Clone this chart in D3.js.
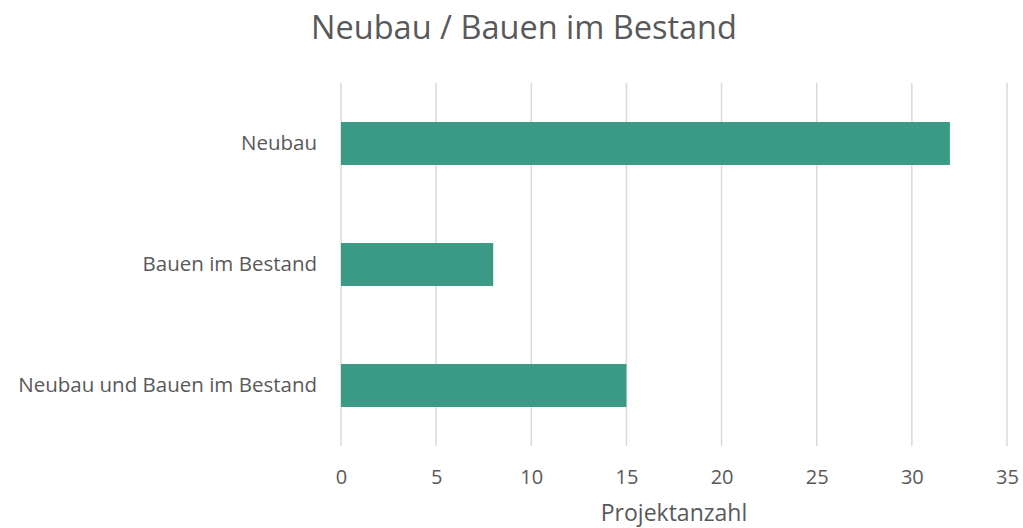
<!DOCTYPE html>
<html>
<head>
<meta charset="utf-8">
<script src="https://cdn.jsdelivr.net/npm/d3@7"></script>
<style>
  body { margin: 0; background: #fff; }
  text { font-family: "Open Sans", Lato, sans-serif; fill: #595959; }
</style>
</head>
<body>
<script>
// Chart data
const categories = ["Neubau", "Bauen im Bestand", "Neubau und Bauen im Bestand"];
const values = [32, 8, 15];
const xTicks = [0, 5, 10, 15, 20, 25, 30, 35];
const title = "Neubau / Bauen im Bestand";
const xTitle = "Projektanzahl";

const width = 1023;
const height = 528;
const margin = { top: 83, right: 16, bottom: 82, left: 341 };

const svg = d3.select("body")
  .append("svg")
  .attr("width", width)
  .attr("height", height);

// x scale for counts
const x = d3.scaleLinear()
  .domain([0, 35])
  .range([margin.left, width - margin.right]);

// y band per category
const y = d3.scaleBand()
  .domain(categories)
  .range([margin.top, height - margin.bottom])
  .paddingInner(0.645)
  .paddingOuter(0.3225);

// gridlines
svg.append("g")
  .selectAll("line")
  .data(xTicks)
  .join("line")
  .attr("x1", d => x(d))
  .attr("x2", d => x(d))
  .attr("y1", margin.top)
  .attr("y2", height - margin.bottom)
  .attr("stroke", "#d9d9d9")
  .attr("stroke-width", 1.5);

// bars
svg.append("g")
  .selectAll("rect")
  .data(values)
  .join("rect")
  .attr("x", x(0))
  .attr("y", (d, i) => y(categories[i]))
  .attr("width", d => x(d) - x(0))
  .attr("height", y.bandwidth())
  .attr("fill", "#3a9a86");

// x axis tick labels
const xAxis = svg.append("g")
  .attr("transform", `translate(0,${height - margin.bottom})`)
  .call(d3.axisBottom(x).tickValues(xTicks).tickSize(0).tickPadding(24));
xAxis.select(".domain").remove();
xAxis.selectAll("text")
  .attr("font-size", 20)
  .attr("font-family", null)
  .attr("fill", "#595959");

// y axis category labels
const yAxis = svg.append("g")
  .attr("transform", `translate(${margin.left},0)`)
  .call(d3.axisLeft(y).tickSize(0).tickPadding(24));
yAxis.select(".domain").remove();
yAxis.selectAll("text")
  .attr("font-size", 20.5)
  .attr("font-family", null)
  .attr("fill", "#595959");

// chart title
svg.append("text")
  .attr("x", 524)
  .attr("y", 39)
  .attr("text-anchor", "middle")
  .attr("font-size", 32.5)
  .text(title);

// axis title
svg.append("text")
  .attr("x", x(17.5))
  .attr("y", 521)
  .attr("text-anchor", "middle")
  .attr("font-size", 23)
  .text(xTitle);
</script>
</body>
</html>
